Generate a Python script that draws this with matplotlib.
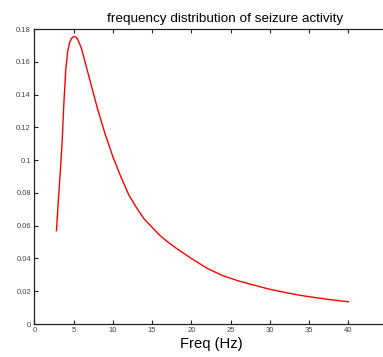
import matplotlib
matplotlib.use("Agg")
import matplotlib.pyplot as plt

freq = [2.8, 3.0, 3.25, 3.5, 3.75, 4.0, 4.25, 4.5, 4.75, 5.0, 5.25, 5.5, 6.0,
        7, 8, 9, 10, 11, 12, 13, 14, 15, 16, 17, 18, 20, 22, 24, 26, 28, 30,
        32, 34, 36, 38, 40]
power = [0.057, 0.072, 0.090, 0.109, 0.135, 0.156, 0.167, 0.172, 0.1745, 0.1755,
         0.1752, 0.174, 0.168,
         0.150, 0.132, 0.116, 0.102, 0.090, 0.079, 0.071, 0.064, 0.059, 0.054,
         0.050, 0.0465, 0.040, 0.034, 0.0295, 0.0263, 0.0237, 0.0212,
         0.0192, 0.0174, 0.0160, 0.0147, 0.0136]
xticks = [0, 5, 10, 15, 20, 25, 30, 35, 40, 45]
yticks = [0, 0.02, 0.04, 0.06, 0.08, 0.1, 0.12, 0.14, 0.16, 0.18]
ytick_labels = ["0", "0.02", "0.04", "0.06", "0.08", "0.1", "0.12", "0.14", "0.16", "0.18"]

plt.rcParams['font.family'] = ['Liberation Sans', 'DejaVu Sans']
fig = plt.figure(figsize=(3.83, 3.57), dpi=100)
ax = fig.add_axes([0.090, 0.0924, 0.922, 0.826])
ax.plot(freq, power, color='red', linewidth=1.0)
ax.set_xlim(0, 45)
ax.set_ylim(0, 0.18)
ax.set_xticks(xticks)
ax.set_xticklabels([str(t) for t in xticks])
ax.set_yticks(yticks)
ax.set_yticklabels(ytick_labels)
ax.tick_params(direction='in', length=3, width=0.8, labelsize=5.5, top=True, right=True,
               colors='#222222', labelcolor='#444444', pad=2.5)
for s in ax.spines.values():
    s.set_linewidth(0.9)
    s.set_color('#222222')
ax.set_title("frequency distribution of seizure activity", fontsize=9.7, pad=5, x=0.54)
ax.set_xlabel("Freq (Hz)", fontsize=10.6, labelpad=1.5)
fig.savefig("out.png", dpi=100)
